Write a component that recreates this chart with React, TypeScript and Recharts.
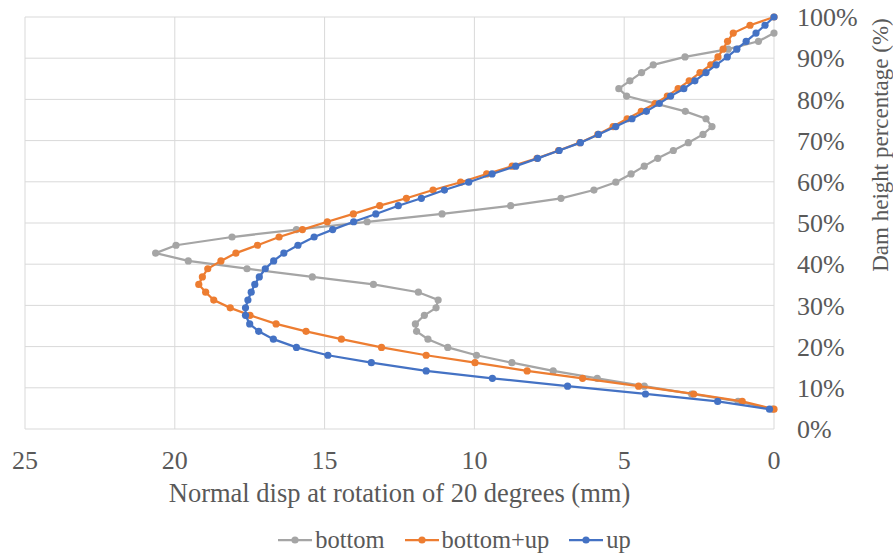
import { ScatterChart, Scatter, XAxis, YAxis, CartesianGrid, Legend, Label } from 'recharts';

// dam height (%) of each node, shared by the three runs
const heights = [
  4.8, 6.7, 8.5, 10.4, 12.3, 14.1, 16.1, 17.9, 19.8, 21.8, 23.7, 25.5, 27.6, 29.4, 31.3, 33.2, 35.1,
  36.9, 38.9, 40.8, 42.7, 44.6, 46.6, 48.4, 50.3, 52.2, 54.2, 56.0, 58.0, 59.9, 61.9, 63.8, 65.7,
  67.6, 69.5, 71.5, 73.4, 75.3, 77.1, 79.0, 80.8, 82.6, 84.5, 86.5, 88.4, 90.3, 92.2, 94.1, 96.1,
  98.0, 100,
];

// normal displacement (mm), null = no point
const bottom = [
  0.05, 1.2, 2.75, 4.33, 5.9, 7.37, 8.75, 9.93, 10.89, 11.55, 11.93, 11.97, 11.67, 11.28, 11.21, 11.87,
  13.37, 15.41, 17.59, 19.55, 20.64, 19.96, 18.09, 15.94, 13.58, 11.08, 8.79, 7.11, 6.01, 5.28, 4.77,
  4.33, 3.88, 3.36, 2.86, 2.37, 2.07, 2.27, 2.96, null, 4.92, 5.18, 4.81, 4.42, 4.03, 2.97, 1.53, 0.52,
  0.0, null, null,
];
const bottomUp = [
  0.0, 1.06, 2.68, 4.52, 6.39, 8.24, 9.98, 11.61, 13.1, 14.44, 15.62, 16.62, 17.49, 18.15, 18.7, 18.97,
  19.2, 19.08, 18.9, 18.46, 17.96, 17.24, 16.52, 15.74, 14.91, 14.04, 13.16, 12.27, 11.38, 10.46, 9.59,
  8.74, 7.91, 7.19, 6.48, 5.88, 5.37, 4.9, 4.43, 3.97, 3.56, 3.2, 2.83, 2.47, 2.11, 1.87, 1.7, 1.55,
  1.36, 0.8, 0.0,
];
const up = [
  0.15, 1.88, 4.29, 6.89, 9.4, 11.61, 13.44, 14.89, 15.94, 16.71, 17.2, 17.5, 17.64, 17.64, 17.56, 17.45,
  17.33, 17.18, 16.98, 16.7, 16.36, 15.89, 15.35, 14.73, 14.03, 13.29, 12.54, 11.77, 11.0, 10.19, 9.41,
  8.62, 7.89, 7.17, 6.46, 5.86, 5.28, 4.74, 4.26, 3.83, 3.45, 3.01, 2.64, 2.27, 1.93, 1.56, 1.24, 0.93,
  0.6, 0.3, 0.0,
];

const xTicks = [0, 5, 10, 15, 20, 25];
const yTicks = [0, 10, 20, 30, 40, 50, 60, 70, 80, 90, 100];

const colors: Record<string, string> = {
  bottom: '#A5A5A5',
  'bottom+up': '#ED7D31',
  up: '#4472C4',
};

const FONT = '"Liberation Serif", "Times New Roman", serif';
const TEXT = '#595959';

const toPoints = (disp: (number | null)[]) =>
  heights
    .map((h, i) => ({ x: disp[i], y: h }))
    .filter((p) => p.x !== null);

const dot = (color: string) => (props: any) =>
  <circle cx={props.cx} cy={props.cy} r={3.6} fill={color} />;

function LegendContent({ payload }: any) {
  return (
    <div style={{ display: 'flex', justifyContent: 'center', fontFamily: FONT, fontSize: 24.5, color: TEXT }}>
      {(payload || []).map((entry: any) => {
        const c = colors[entry.value];
        return (
          <span key={entry.value} style={{ display: 'flex', alignItems: 'center', margin: '0 10px' }}>
            <svg width={34} height={12}>
              <line x1={0} y1={6} x2={34} y2={6} stroke={c} strokeWidth={2.25} />
              <circle cx={17} cy={6} r={3.6} fill={c} />
            </svg>
            <span style={{ marginLeft: 3 }}>{entry.value}</span>
          </span>
        );
      })}
    </div>
  );
}

export default function App() {
  return (
    <div style={{ position: 'absolute', left: 0, top: 0 }}>
      <ScatterChart
        width={893}
        height={557}
        margin={{ top: 17, right: 0, bottom: 48, left: 25 }}
        style={{ fontFamily: FONT }}
      >
        <CartesianGrid stroke="#D9D9D9" strokeWidth={1} />
        <XAxis
          type="number"
          dataKey="x"
          domain={[0, 25]}
          ticks={xTicks}
          reversed
          axisLine={false}
          tickLine={false}
          tickSize={0}
          tickMargin={22}
          height={80}
          tick={{ fill: TEXT, fontSize: 26, fontFamily: FONT }}
        >
          <Label
            value="Normal disp at rotation of 20 degrees (mm)"
            position="insideBottom"
            offset={7}
            style={{ fill: TEXT, fontSize: 26.5, fontFamily: FONT }}
          />
        </XAxis>
        <YAxis
          type="number"
          dataKey="y"
          orientation="right"
          domain={[0, 100]}
          ticks={yTicks}
          axisLine={false}
          tickLine={false}
          tickSize={0}
          tickMargin={23}
          width={119}
          tick={{ fill: TEXT, fontSize: 26, fontFamily: FONT }}
          tickFormatter={(v: number) => `${v}%`}
        >
          <Label
            content={() => (
              <text
                x={880}
                y={145}
                transform="rotate(-90 880 145)"
                textAnchor="middle"
                dominantBaseline="central"
                fontSize={23}
                fontFamily={FONT}
                fill={TEXT}
              >
                Dam height percentage (%)
              </text>
            )}
          />
        </YAxis>
        <Legend
          layout="horizontal"
          verticalAlign="middle"
          align="center"
          wrapperStyle={{ left: 8, top: 526, width: 893 }}
          content={<LegendContent />}
        />
        <Scatter
          name="bottom"
          data={toPoints(bottom)}
          fill={colors.bottom}
          line={{ stroke: colors.bottom, strokeWidth: 2.25 }}
          lineType="joint"
          shape={dot(colors.bottom)}
          isAnimationActive={false}
        />
        <Scatter
          name="bottom+up"
          data={toPoints(bottomUp)}
          fill={colors['bottom+up']}
          line={{ stroke: colors['bottom+up'], strokeWidth: 2.25 }}
          lineType="joint"
          shape={dot(colors['bottom+up'])}
          isAnimationActive={false}
        />
        <Scatter
          name="up"
          data={toPoints(up)}
          fill={colors.up}
          line={{ stroke: colors.up, strokeWidth: 2.25 }}
          lineType="joint"
          shape={dot(colors.up)}
          isAnimationActive={false}
        />
      </ScatterChart>
    </div>
  );
}
